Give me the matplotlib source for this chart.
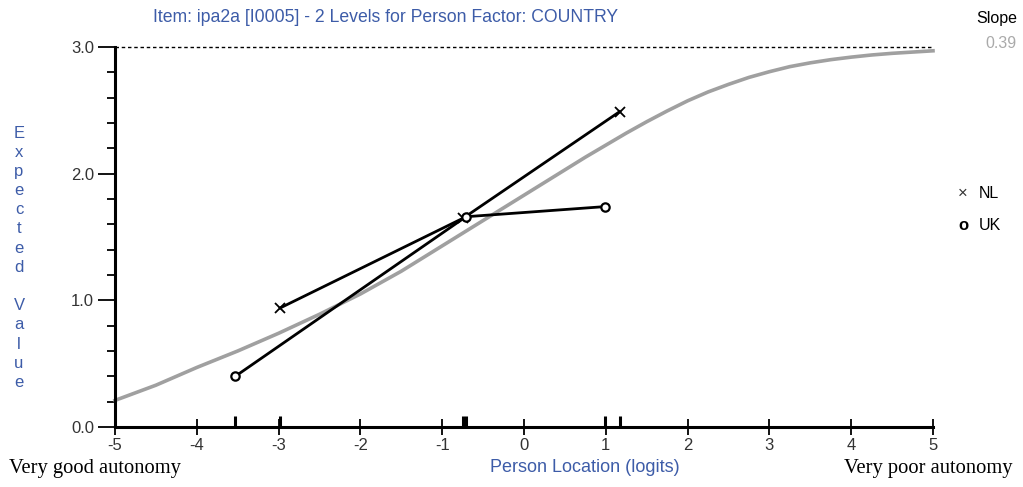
import matplotlib
matplotlib.use("Agg")
import matplotlib.pyplot as plt
from matplotlib.ticker import MultipleLocator

# ---- data ----
curve_x = [-5, -4.75, -4.5, -4.25, -4, -3.75, -3.5, -3.25, -3, -2.75, -2.5, -2.25, -2, -1.75,
           -1.5, -1.25, -1, -0.75, -0.5, -0.25, 0, 0.25, 0.5, 0.75, 1, 1.25, 1.5, 1.75, 2,
           2.25, 2.5, 2.75, 3, 3.25, 3.5, 3.75, 4, 4.25, 4.5, 4.75, 5]
curve_y = [0.21, 0.27, 0.33, 0.40, 0.47, 0.535, 0.60, 0.67, 0.74, 0.815, 0.89, 0.97, 1.05, 1.14,
           1.23, 1.33, 1.43, 1.53, 1.63, 1.73, 1.83, 1.93, 2.03, 2.13, 2.225, 2.32, 2.41, 2.495, 2.575,
           2.645, 2.705, 2.76, 2.805, 2.845, 2.875, 2.90, 2.92, 2.937, 2.95, 2.96, 2.97]

nl_x = [-2.98, -0.74, 1.17]
nl_y = [0.94, 1.65, 2.49]
uk_x = [-3.53, -0.71, 0.99]
uk_y = [0.40, 1.66, 1.74]

x_ticks = [-5, -4, -3, -2, -1, 0, 1, 2, 3, 4, 5]
y_ticks = [0.0, 1.0, 2.0, 3.0]
y_ticklabels = ["0.0", "1.0", "2.0", "3.0"]
slope_value = "0.39"
title = "Item: ipa2a [I0005] - 2 Levels for Person Factor: COUNTRY"

BLUE = "#3d5ca8"
SANS = ["Liberation Sans", "DejaVu Sans"]
SERIF = ["Liberation Serif", "DejaVu Serif"]

fig = plt.figure(figsize=(10.23, 4.87), dpi=100)
ax = fig.add_axes([115/1023, 1-427/487, (933-115)/1023, (427-47)/487])

ax.plot(curve_x, curve_y, color="#a0a0a0", lw=2.6, zorder=2, clip_on=False)
ax.plot(nl_x, nl_y, color="black", lw=2.0, marker="x", ms=6.5, mew=1.3, zorder=3, clip_on=False)
ax.plot(uk_x, uk_y, color="black", lw=2.0, marker="o", ms=6, mfc="white", mec="black", mew=1.6, zorder=4, clip_on=False)

# dashed asymptote at max score
ax.plot([x_ticks[0], x_ticks[-1]], [y_ticks[-1], y_ticks[-1]], color="black", lw=1.0,
        ls=(0, (2.5, 2)), clip_on=False, zorder=1)

# class interval marks on x-axis
ax.vlines(nl_x + uk_x, 0, 0.09, color="black", lw=2.2, zorder=5, clip_on=False)

ax.set_xlim(-5, 5)
ax.set_ylim(0, 3)
for s in ["top", "right"]:
    ax.spines[s].set_visible(False)
for s in ["left", "bottom"]:
    ax.spines[s].set_linewidth(2.2)

ax.set_xticks(x_ticks)
ax.set_xticklabels([str(v) for v in x_ticks], fontfamily=SANS, fontsize=12, color="#333333")
ax.set_yticks(y_ticks)
ax.set_yticklabels(y_ticklabels, fontfamily=SANS, fontsize=12, color="#333333")
ax.yaxis.set_minor_locator(MultipleLocator(0.2))
ax.tick_params(axis="x", which="major", direction="inout", length=12, width=1.3, pad=2)
ax.tick_params(axis="y", which="major", direction="out", length=12, width=1.3, pad=3)
ax.tick_params(axis="y", which="minor", direction="out", length=6, width=1.3)

# title
fig.text(386/1023, 1-17/487, title, ha="center", va="center", color=BLUE,
         fontfamily=SANS, fontsize=12.7)

# vertical stacked y label
ylabel = "Expected Value"
ys = 133
for ch in ylabel:
    if ch != " ":
        fig.text(19/1023, 1-ys/487, ch, ha="center", va="center", color=BLUE,
                 fontfamily=SANS, fontsize=12)
    ys += 19.2

fig.text(585/1023, 1-467/487, "Person Location (logits)", ha="center", va="center",
         color=BLUE, fontfamily=SANS, fontsize=13)
fig.text(9/1023, 1-468/487, "Very good autonomy", ha="left", va="center",
         color="black", fontfamily=SERIF, fontsize=14.8)
fig.text(1012/1023, 1-468/487, "Very poor autonomy", ha="right", va="center",
         color="black", fontfamily=SERIF, fontsize=14.8)

# slope
fig.text(1017/1023, 1-18/487, "Slope", ha="right", va="center", color="black",
         fontfamily=SANS, fontsize=11.5)
fig.text(1016/1023, 1-44/487, slope_value, ha="right", va="center", color="#aaaaaa",
         fontfamily=SANS, fontsize=11.5)

# legend
fig.text(963/1023, 1-193/487, "\u00d7", ha="center", va="center", color="#333333",
         fontfamily=SANS, fontsize=12)
fig.text(979/1023, 1-193/487, "NL", ha="left", va="center", color="black",
         fontfamily=SANS, fontsize=11.5)
fig.text(963/1023, 1-225/487, "o", ha="center", va="center", color="black",
         fontfamily=SANS, fontsize=12, fontweight="bold")
fig.text(979/1023, 1-225/487, "UK", ha="left", va="center", color="black",
         fontfamily=SANS, fontsize=11.5)

fig.savefig("out.png", dpi=100)
